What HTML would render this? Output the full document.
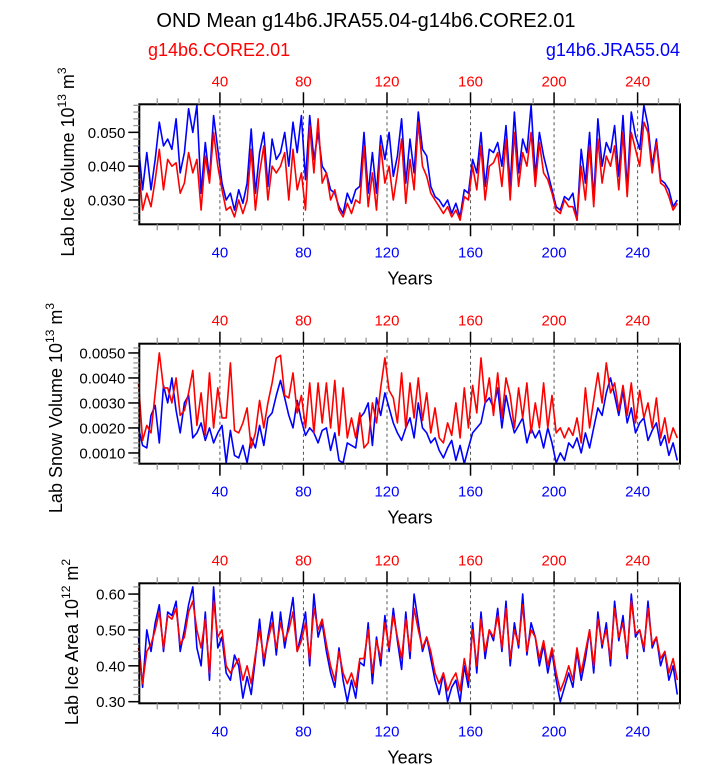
<!DOCTYPE html>
<html><head><meta charset="utf-8"><style>
html,body{margin:0;padding:0;background:#fff;}
svg{display:block;font-family:"Liberation Sans",sans-serif;}
</style></head><body>
<svg id="chart" width="723" height="765" viewBox="0 0 723 765" xmlns="http://www.w3.org/2000/svg">
<text x="366" y="27" font-size="20" text-anchor="middle">OND Mean g14b6.JRA55.04-g14b6.CORE2.01</text>
<text x="148" y="56" font-size="18" fill="#ff0000">g14b6.CORE2.01</text>
<text x="680" y="56" font-size="18" fill="#0000ff" text-anchor="end">g14b6.JRA55.04</text>
</svg>
<script>
const yearStart = 1, yearStep = 2;
const xTicks = [40,80,120,160,200,240];
const volBlue = [46,33,44,33,42,53,46,48,45,54,38,44,57,50,58,32,47,36,55,45, 35,30,32,27,33,29,35,51,32,44,50,34,48,42,44,50,40,53,44,55, 36,55,42,50,40,38,33,32,28,26, 32,29,33,34,50,32,44,32,49,42,50,37,43,54,35,48,38,56,45,43, 34,31,30,28,30,26,29,25,33,32, 42,38,50,34,45,44,47,40,52,34,56,38,48,44,58,37,50,43,38,33, 28,27,31,30,32,24,45,35,50,30, 54,40,47,44,52,37,55,33,56,49,45,58,52,40,48,36,35,33,28,30];
const volRed = [40,27,32,28,36,45,33,42,40,41,32,35,44,38,42,27,43,35,50,40, 33,27,28,25,30,26,30,45,27,38,46,30,40,38,40,44,30,45,33,38, 27,52,38,54,35,38,30,33,27,25, 29,26,30,29,46,28,38,27,46,35,40,30,38,48,29,42,33,53,40,37, 32,30,28,26,28,25,27,24,31,30, 40,33,46,30,40,41,44,34,48,30,50,34,44,40,50,34,47,38,36,32, 27,26,30,28,28,24,40,30,46,28, 48,35,43,40,46,33,50,31,50,45,40,53,50,38,47,35,34,31,27,29];
const snowBlue = [20,13,12,25,29,14,37,30,40,27,18,30,33,16,18,22,15,20,14,18, 21,6,19,9,8,13,6,16,12,21,13,24,26,33,39,32,25,20,31,23, 17,20,18,14,19,20,11,18,7,6, 14,13,12,24,26,30,13,32,25,34,28,22,18,15,20,24,16,30,20,18, 14,16,11,8,12,15,7,13,5,12, 18,20,22,30,32,28,36,20,33,25,18,21,24,14,20,16,19,12,20,14, 6,10,7,14,12,16,10,18,12,20, 28,25,34,40,33,25,35,22,28,18,22,24,15,19,22,13,17,9,14,7];
const snowRed = [38,15,21,18,34,50,36,36,30,40,25,27,34,43,21,34,17,42,20,36, 24,24,46,19,18,22,28,12,18,31,20,30,38,48,49,33,32,42,26,33, 20,38,18,38,22,38,20,39,17,36, 16,24,16,26,12,14,30,22,36,48,35,32,22,42,20,38,24,40,23,34, 18,28,16,14,22,17,30,16,36,20, 37,26,48,30,40,25,42,24,40,33,20,36,24,38,18,30,20,38,20,33, 18,20,16,20,17,24,14,36,20,31, 42,30,46,34,38,27,37,25,38,22,35,24,30,20,32,16,24,14,20,16];
const areaBlue = [48,34,50,44,52,57,44,55,54,58,44,50,57,62,45,40,55,36,62,45, 48,38,36,43,40,31,37,32,42,53,40,48,55,43,55,45,52,59,44,49, 55,40,60,48,52,44,38,34,45,36, 30,36,31,41,40,52,35,48,40,54,44,56,47,39,55,42,60,52,44,48, 42,36,32,38,30,34,36,30,40,34, 52,38,55,42,50,47,56,44,58,40,52,45,60,43,52,48,40,46,38,44, 36,30,34,38,34,44,36,42,50,38, 55,45,52,40,58,47,54,42,60,48,50,44,58,45,48,40,44,36,40,32];
const areaRed = [45,35,44,46,50,55,45,54,53,56,46,48,55,58,50,45,53,38,58,48, 50,40,38,40,42,36,40,35,43,50,42,47,52,45,52,47,50,55,44,47, 52,42,56,50,53,46,40,36,44,38, 35,38,34,42,42,50,38,47,42,52,45,54,48,42,53,44,56,50,45,48, 44,38,35,38,33,36,38,33,42,36, 50,40,53,44,50,48,54,45,56,42,50,46,57,44,50,48,42,47,40,45, 38,33,36,40,36,45,38,44,50,40, 53,46,50,42,56,48,52,43,58,49,50,45,56,46,48,42,44,38,42,36];
const volTicks = [0.030,0.040,0.050];
const snowTicks = [0.0010,0.0020,0.0030,0.0040,0.0050];
const areaTicks = [0.30,0.40,0.50,0.60];

const NS="http://www.w3.org/2000/svg";
const svg=document.getElementById('chart');
function mk(tag,attrs,parent){const e=document.createElementNS(NS,tag);for(const k in attrs)e.setAttribute(k,attrs[k]);(parent||svg).appendChild(e);return e;}
const L=139.3,R=680;
const xMin=1.4,xMax=260.3;
function xs(v){return L+(v-xMin)/(xMax-xMin)*(R-L);}

function panel(cfg){
  const g=mk('g',{});
  
  
  const T=cfg.top,B=cfg.bot;
  const ys=v=>B-(v-cfg.ymin)/(cfg.ymax-cfg.ymin)*(B-T);
  // dashed grid
  xTicks.forEach(t=>{const l=mk('line',{x1:xs(t),x2:xs(t),y1:T,y2:B,stroke:'#555','stroke-width':1,'stroke-dasharray':'3,3'},g);
    
    });
  // series
  function series(arr,color,name){
    let d='';arr.forEach((v,i)=>{const x=xs(yearStart+i*yearStep);const y=Math.max(T,Math.min(B,ys(v*cfg.unit)));d+=(i?'L':'M')+x.toFixed(1)+','+y.toFixed(1);});
    const p=mk('path',{d:d,fill:'none',stroke:color,'stroke-width':1.6,'stroke-linejoin':'round'},g);
    
    
  }
  series(cfg.blue,'#0000ff',cfg.name+'-jra55-line');
  series(cfg.red,'#ff0000',cfg.name+'-core2-line');
  // frame
  const fr=mk('rect',{x:L,y:T,width:R-L,height:B-T,fill:'none',stroke:'#000','stroke-width':2},g);
  
  
  // x ticks
  for(let t=10;t<=260;t+=10){const maj=t%40===0;const len=maj?12:6;const c=maj?'#000':'#999';
    mk('line',{x1:xs(t),x2:xs(t),y1:T,y2:T-len,stroke:c,'stroke-width':maj?1.5:1.3},g);
    mk('line',{x1:xs(t),x2:xs(t),y1:B,y2:B+len,stroke:c,'stroke-width':maj?1.5:1.3},g);}
  xTicks.forEach(t=>{
    const a=mk('text',{x:xs(t),y:T-18,'font-size':15,fill:'#ff0000','text-anchor':'middle'},g);a.textContent=t;
    
    
    const b=mk('text',{x:xs(t),y:B+33,'font-size':15,fill:'#0000ff','text-anchor':'middle'},g);b.textContent=t;
    
    });
  // y ticks
  for(let v=cfg.minorStart;v<=cfg.ymax+1e-9;v+=cfg.minorStep){const y=ys(v);if(y<T-0.5||y>B+0.5)continue;
    mk('line',{x1:L,x2:L-6,y1:y,y2:y,stroke:'#999','stroke-width':1.3},g);}
  cfg.ticks.forEach(v=>{const y=ys(v);mk('line',{x1:L,x2:L-11,y1:y,y2:y,stroke:'#000','stroke-width':1.5},g);
    const t=mk('text',{x:L-14,y:y+5.5,'font-size':15,'text-anchor':'end'},g);t.textContent=v.toFixed(cfg.dec);
    
    });
  const xt=mk('text',{x:410,y:B+60,'font-size':18,'text-anchor':'middle'},g);xt.textContent='Years';
  
  
  const yt=mk('text',{x:0,y:0,'font-size':18,'text-anchor':'middle',transform:`translate(${cfg.ytx},${cfg.yty}) rotate(-90)`},g);
  yt.innerHTML=cfg.ylabel;
  
  
}
panel({name:'ice-volume-panel',top:104.3,bot:224.3,ymin:0.0228,ymax:0.0583,unit:0.001,blue:volBlue,red:volRed,ticks:volTicks,dec:3,minorStart:0.024,minorStep:0.002,ytx:74,yty:162,
  ylabel:'Lab Ice Volume 10<tspan font-size="12" dy="-8">13</tspan><tspan dy="8"> m</tspan><tspan font-size="12" dy="-8">3</tspan>'});
panel({name:'snow-volume-panel',top:343.7,bot:463.7,ymin:0.00057,ymax:0.00537,unit:0.0001,blue:snowBlue,red:snowRed,ticks:snowTicks,dec:4,minorStart:0.0006,minorStep:0.0002,ytx:62,yty:408,
  ylabel:'Lab Snow Volume 10<tspan font-size="12" dy="-8">13</tspan><tspan dy="8"> m</tspan><tspan font-size="12" dy="-8">3</tspan>'});
panel({name:'ice-area-panel',top:583.3,bot:703.3,ymin:0.2955,ymax:0.630,unit:0.01,blue:areaBlue,red:areaRed,ticks:areaTicks,dec:2,minorStart:0.30,minorStep:0.02,ytx:78,yty:642,
  ylabel:'Lab Ice Area 10<tspan font-size="12" dy="-8">12</tspan><tspan dy="8"> m</tspan><tspan font-size="12" dy="-8">2</tspan>'});
</script>
</body></html>
